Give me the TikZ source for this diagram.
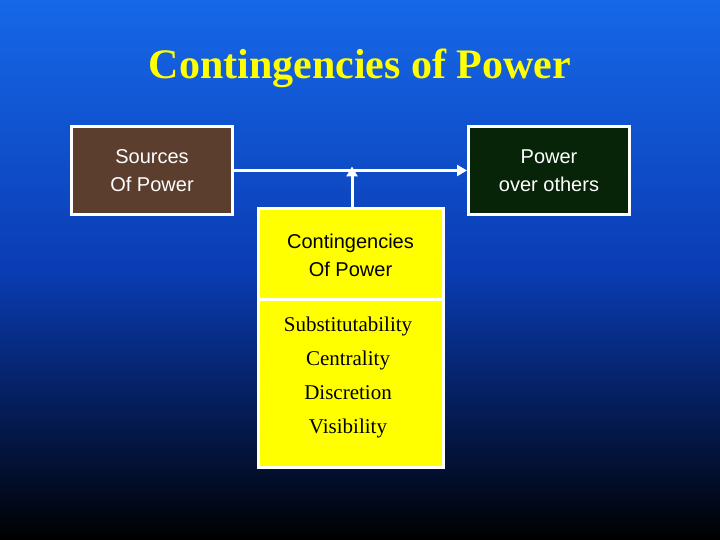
\documentclass[tikz,border=0pt]{standalone}
\usepackage{fontspec}
\setmainfont{Liberation Serif}
\newfontfamily\arial{Liberation Sans}
\usetikzlibrary{arrows.meta}
\definecolor{topblue}{RGB}{22,104,232}
\definecolor{midblue}{RGB}{10,60,180}
\definecolor{brownbox}{RGB}{92,62,46}
\definecolor{greenbox}{RGB}{8,36,8}
\definecolor{ybox}{RGB}{255,255,0}
\definecolor{titley}{RGB}{255,255,0}
\tikzset{
  card/.style={draw=white,line width=3pt,minimum width=161pt,minimum height=88pt,text=white,font=\arial\fontsize{20}{28}\selectfont,align=center,inner sep=0pt},
  conn/.style={draw=white,line width=3pt,-{Triangle[length=10pt,width=11pt]}}
}
\begin{document}
\begin{tikzpicture}[x=1pt,y=-1pt]
\useasboundingbox (0,0) rectangle (720,540);
\shade[top color=topblue,bottom color=midblue] (0,0) rectangle (720,270);
\shade[top color=midblue,bottom color=black] (0,270) rectangle (720,540);
\node[text=titley,font=\bfseries\fontsize{42}{48}\selectfont] (title) at (360,68) {Contingencies of Power};
\node[card,fill=brownbox] (src) at (152,170.5) {Sources\\Of Power};
\node[card,fill=greenbox] (pow) at (549,170.5) {Power\\over others};
\node[draw=white,line width=3pt,fill=ybox,minimum width=185pt,minimum height=258pt,inner sep=0pt] (cont) at (350.5,338) {};
\draw[white,line width=3pt] (258,299) -- (443,299);
\node[font=\arial\fontsize{20}{28}\selectfont,align=center] (ct) at (350.5,255) {Contingencies\\Of Power};
\node[font=\fontsize{21}{34}\selectfont,align=center] (cl) at (348,377) {Substitutability\\Centrality\\Discretion\\Visibility};
\draw[conn] (src.east) -- (pow.west);
\coordinate (j) at (352,168);
\draw[conn] (cont.north -| j) -- ([yshift=1.5pt]j);
\end{tikzpicture}
\end{document}
